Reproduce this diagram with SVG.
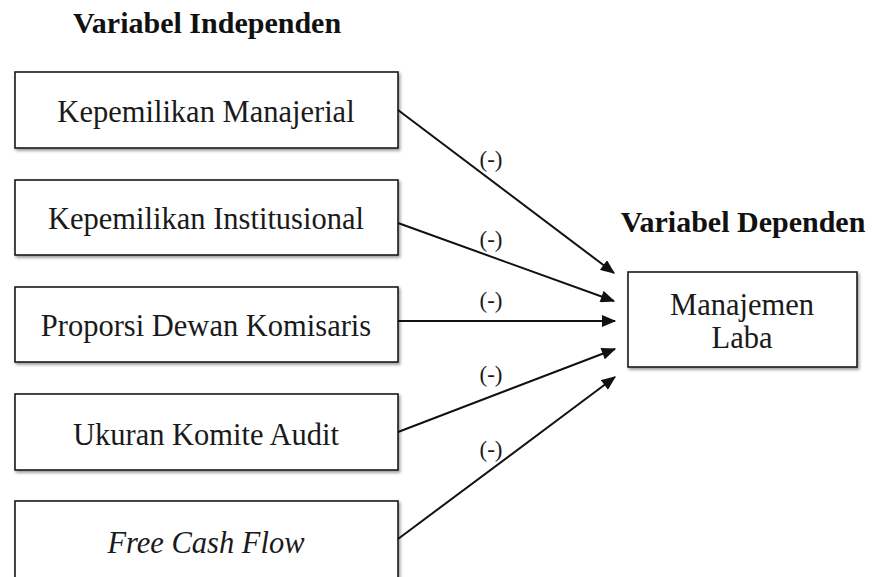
<svg xmlns="http://www.w3.org/2000/svg" width="872" height="577" viewBox="0 0 872 577">
<style>
.box{fill:#fff;stroke:#1a1a1a;stroke-width:1.6;filter:url(#sh)}
.t{font-family:"Liberation Serif","Times New Roman",serif;font-size:30.5px;fill:#1a1a1a;text-anchor:middle}
.h{font-family:"Liberation Serif","Times New Roman",serif;font-size:30px;font-weight:bold;fill:#111;text-anchor:middle}
.l{font-family:"Liberation Serif","Times New Roman",serif;font-size:23px;fill:#1a1a1a;text-anchor:middle}
.c{stroke:#111;stroke-width:2;fill:none}
</style>
<defs>
<filter id="sh" x="-5%" y="-10%" width="115%" height="130%">
<feDropShadow dx="1.5" dy="2" stdDeviation="1.5" flood-color="#000" flood-opacity="0.4"/>
</filter>
<marker id="ah2" viewBox="0 0 12 10" refX="11" refY="5" markerWidth="15" markerHeight="12" markerUnits="userSpaceOnUse" orient="auto">
<path d="M0,0 L12,5 L0,10 z" fill="#111"/>
</marker>
</defs>
<text class="h" x="207" y="33">Variabel Independen</text>
<text class="h" x="743" y="232">Variabel Dependen</text>
<g id="n1"><rect class="box" x="15" y="72" width="383" height="76"/><text class="t" x="206" y="122">Kepemilikan Manajerial</text></g>
<g id="n2"><rect class="box" x="15" y="180" width="383" height="75"/><text class="t" x="206" y="229">Kepemilikan Institusional</text></g>
<g id="n3"><rect class="box" x="15" y="287" width="383" height="75"/><text class="t" x="206" y="336">Proporsi Dewan Komisaris</text></g>
<g id="n4"><rect class="box" x="15" y="394" width="383" height="76"/><text class="t" x="206" y="445">Ukuran Komite Audit</text></g>
<g id="n5"><rect class="box" x="15" y="501" width="383" height="80"/><text class="t" x="206" y="553" font-style="italic">Free Cash Flow</text></g>
<g id="n6"><rect class="box" x="628" y="272" width="229" height="95"/><text class="t" x="742" y="315">Manajemen</text><text class="t" x="742" y="348">Laba</text></g>
<g id="connectors">
<line class="c" x1="398" y1="110" x2="614" y2="273" marker-end="url(#ah2)"/>
<line class="c" x1="398" y1="223" x2="614" y2="301" marker-end="url(#ah2)"/>
<line class="c" x1="398" y1="321" x2="615" y2="321" marker-end="url(#ah2)"/>
<line class="c" x1="398" y1="432" x2="615" y2="349" marker-end="url(#ah2)"/>
<line class="c" x1="398" y1="539" x2="615" y2="377" marker-end="url(#ah2)"/>
</g>
<g id="labels">
<text class="l" x="491" y="167">(-)</text>
<text class="l" x="491" y="247">(-)</text>
<text class="l" x="491" y="308">(-)</text>
<text class="l" x="491" y="382">(-)</text>
<text class="l" x="491" y="457">(-)</text>
</g>
</svg>
